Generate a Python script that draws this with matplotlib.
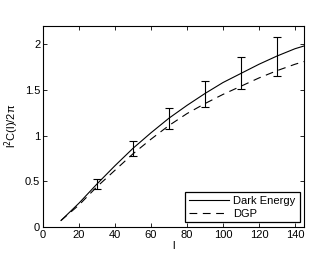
import matplotlib
matplotlib.use("Agg")
import matplotlib.pyplot as plt

plt.rcParams['font.family'] = ['Liberation Sans', 'DejaVu Sans']
plt.rcParams['font.size'] = 8

# curves
l_vals = [10, 20, 30, 40, 50, 60, 70, 80, 90, 100, 110, 120, 130, 140, 145]
dark_energy = [0.07, 0.26, 0.47, 0.67, 0.86, 1.03, 1.19, 1.33, 1.46, 1.58, 1.68, 1.78, 1.87, 1.95, 1.98]
dgp = [0.07, 0.24, 0.44, 0.62, 0.80, 0.96, 1.11, 1.24, 1.35, 1.45, 1.54, 1.63, 1.71, 1.78, 1.81]

# error bars
l_err = [30, 50, 70, 90, 110, 130]
err_center = [0.47, 0.86, 1.19, 1.46, 1.68, 1.87]
err_lo = [0.42, 0.78, 1.07, 1.31, 1.505, 1.65]
err_hi = [0.52, 0.94, 1.30, 1.60, 1.86, 2.08]

fig = plt.figure(figsize=(3.14, 2.59), dpi=100)
ax = fig.add_axes([0.137, 0.124, 0.831, 0.776])

ax.plot(l_vals, dark_energy, color='black', lw=0.8, label='Dark Energy')
ax.plot(l_vals, dgp, color='black', lw=0.8, ls=(0, (7, 5)), label='DGP')

yerr = [[c - lo for c, lo in zip(err_center, err_lo)],
        [hi - c for c, hi in zip(err_center, err_hi)]]
ax.errorbar(l_err, err_center, yerr=yerr, fmt='none', ecolor='black',
            elinewidth=0.8, capsize=3, capthick=0.8)

ax.set_xlim(0, 145)
ax.set_ylim(0, 2.2)
ax.set_xticks(range(0, 141, 20))
ax.set_yticks([0, 0.5, 1, 1.5, 2])
ax.set_yticklabels(['0', '0.5', '1', '1.5', '2'])
ax.tick_params(direction='in', top=True, right=True, length=3, width=0.6, pad=2)
for s in ax.spines.values():
    s.set_linewidth(0.8)

ax.set_xlabel('l', labelpad=1)
ax.set_ylabel('l$^2$C(l)/2π', labelpad=3)

leg = ax.legend(loc='lower right', fancybox=False, edgecolor='black',
                framealpha=1, handlelength=3.6, borderaxespad=0.4,
                borderpad=0.35, labelspacing=0.2, handletextpad=0.4)
leg.get_frame().set_linewidth(0.9)

fig.savefig('out.png', dpi=100)
